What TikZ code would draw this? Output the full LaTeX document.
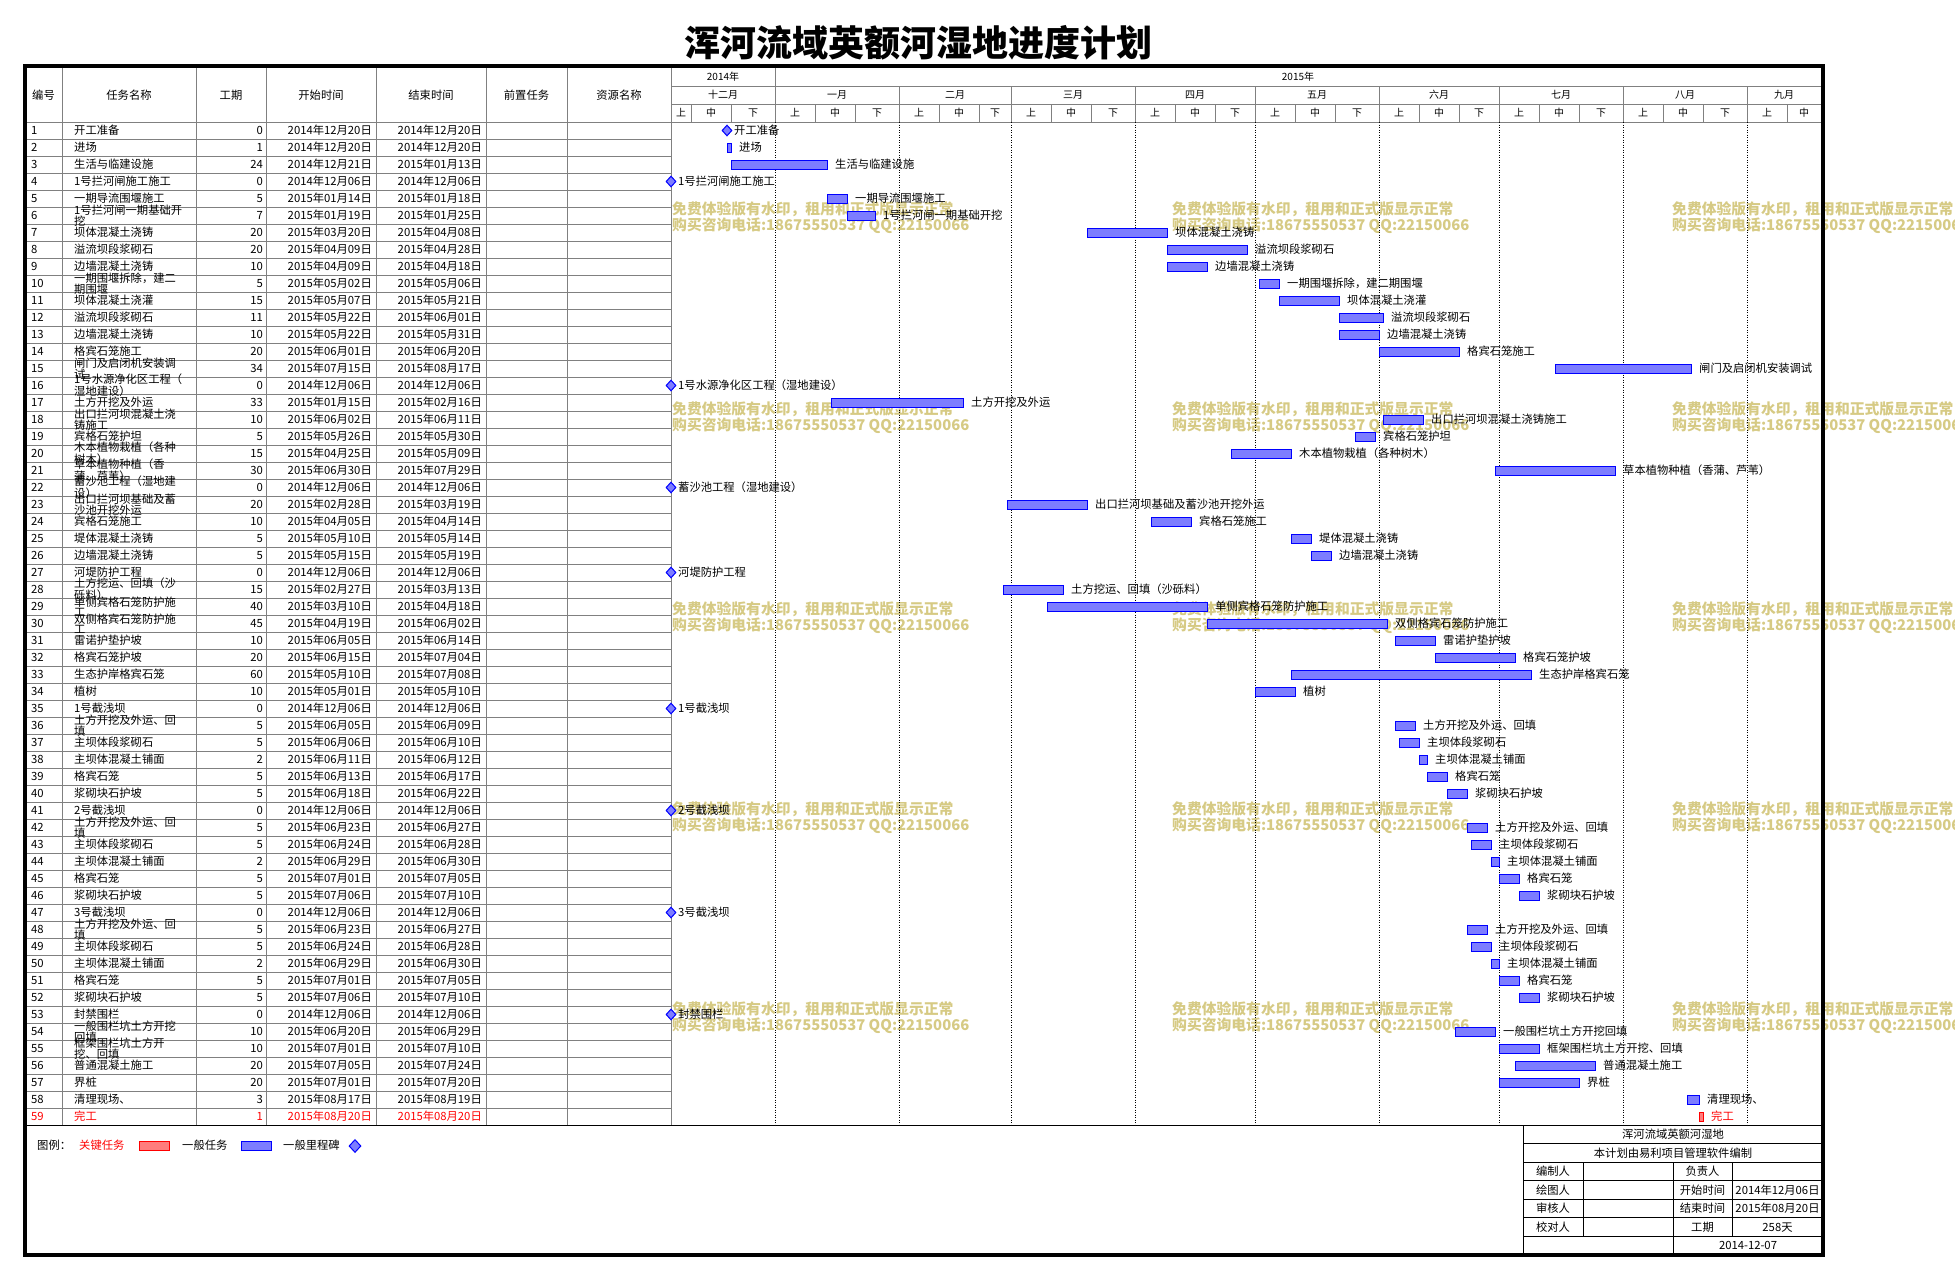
\documentclass[tikz,border=0pt]{standalone}
\usepackage{fontspec}
\setmainfont{Noto Sans CJK SC}
\usetikzlibrary{shapes.geometric}
\definecolor{wm}{RGB}{214,202,132}
\definecolor{gbfill}{RGB}{125,125,255}
\definecolor{kbfill}{RGB}{255,125,125}
\definecolor{ln}{RGB}{128,128,128}

\begin{document}
\begin{tikzpicture}[x=1pt, y=-1pt,
  cell/.style = {inner sep=0pt, font=\fontsize{11.3}{9}\selectfont},
  hd/.style = {inner sep=0pt, font=\fontsize{10}{10}\selectfont},
  wmark/.style = {inner sep=0pt, anchor=west, text=wm, font=\fontsize{14.8}{14.8}\selectfont\bfseries},
  gbar/.style = {draw=blue, fill=gbfill, line width=1pt},
  kbar/.style = {draw=red, fill=kbfill, line width=1pt},
  mstone/.style = {diamond, draw=blue, fill=gbfill, line width=1pt, inner sep=0pt, minimum width=10pt, minimum height=11pt},
  grid/.style = {draw=ln, line width=1pt}]
\useasboundingbox (0,0) rectangle (1955,1280);

\node[font=\fontsize{36}{36}\selectfont\bfseries] (title) at (918,43) {浑河流域英额河湿地进度计划};

\foreach \wx in {672,1172,1672}
  \foreach \wy in {209,409,609,809,1009} {
    \node[wmark] at (\wx,\wy) {免费体验版有水印，租用和正式版显示正常};
    \node[wmark] at (\wx,\wy+17) {购买咨询电话:18675550537 QQ:22150066};
  }

\draw[grid] (671,86) -- (1821,86);
\draw[grid] (671,104) -- (1821,104);
\draw[grid] (25,122) -- (1821,122);
\foreach \r in {1,...,58}
  \draw[grid] (25,122+17*\r) -- (671,122+17*\r);
\foreach \cx in {62,196,266,376,486,567,671}
  \draw[grid] (\cx,68) -- (\cx,1125);
\draw[grid] (775,68) -- (775,86);
\foreach \mx in {775,899,1011,1135,1255,1379,1499,1623,1747} {
  \draw[grid] (\mx,86) -- (\mx,122);
  \draw[dash pattern=on 1pt off 1.5pt] (\mx,122) -- (\mx,1125);
}

\node[cell] (h1) at (43.5,95) {编号};
\node[cell] (h2) at (129,95) {任务名称};
\node[cell] (h3) at (231,95) {工期};
\node[cell] (h4) at (321,95) {开始时间};
\node[cell] (h5) at (431,95) {结束时间};
\node[cell] (h6) at (526.5,95) {前置任务};
\node[cell] (h7) at (619,95) {资源名称};

\node[hd] (y14) at (723,77) {2014年};
\node[hd] (y15) at (1298,77) {2015年};
\foreach \mx/\mn in {723/十二月,837/一月,955/二月,1073/三月,1195/四月,1317/五月,1439/六月,1561/七月,1685/八月,1784/九月}
  \node[hd] (m\mx) at (\mx,95) {\mn};
\foreach \a/\b/\t in {0/5/上,5/15/中,15/26/下,26/36/上,36/46/中,46/57/下,57/67/上,67/77/中,77/85/下,85/95/上,95/105/中,105/116/下,116/126/上,126/136/中,136/146/下,146/156/上,156/166/中,166/177/下,177/187/上,187/197/中,197/207/下,207/217/上,217/227/中,227/238/下,238/248/上,248/258/中,258/269/下,269/279/上,279/287.5/中} {
  \draw[grid] ({671+4*\a},104) -- ({671+4*\a},122);
  \node[hd] (d\a) at ({671+2*(\a+\b)},113) {\t};
}

\foreach \n/\nm/\du/\sd/\ed in {
  1/开工准备/0/2014年12月20日/2014年12月20日,
  2/进场/1/2014年12月20日/2014年12月20日,
  3/生活与临建设施/24/2014年12月21日/2015年01月13日,
  4/1号拦河闸施工施工/0/2014年12月06日/2014年12月06日,
  5/一期导流围堰施工/5/2015年01月14日/2015年01月18日,
  6/{1号拦河闸一期基础开\\挖}/7/2015年01月19日/2015年01月25日,
  7/坝体混凝土浇铸/20/2015年03月20日/2015年04月08日,
  8/溢流坝段浆砌石/20/2015年04月09日/2015年04月28日,
  9/边墙混凝土浇铸/10/2015年04月09日/2015年04月18日,
  10/{一期围堰拆除，建二\\期围堰}/5/2015年05月02日/2015年05月06日,
  11/坝体混凝土浇灌/15/2015年05月07日/2015年05月21日,
  12/溢流坝段浆砌石/11/2015年05月22日/2015年06月01日,
  13/边墙混凝土浇铸/10/2015年05月22日/2015年05月31日,
  14/格宾石笼施工/20/2015年06月01日/2015年06月20日,
  15/{闸门及启闭机安装调\\试}/34/2015年07月15日/2015年08月17日,
  16/{1号水源净化区工程（\\湿地建设）}/0/2014年12月06日/2014年12月06日,
  17/土方开挖及外运/33/2015年01月15日/2015年02月16日,
  18/{出口拦河坝混凝土浇\\铸施工}/10/2015年06月02日/2015年06月11日,
  19/宾格石笼护坦/5/2015年05月26日/2015年05月30日,
  20/{木本植物栽植（各种\\树木）}/15/2015年04月25日/2015年05月09日,
  21/{草本植物种植（香\\蒲、芦苇）}/30/2015年06月30日/2015年07月29日,
  22/{蓄沙池工程（湿地建\\设）}/0/2014年12月06日/2014年12月06日,
  23/{出口拦河坝基础及蓄\\沙池开挖外运}/20/2015年02月28日/2015年03月19日,
  24/宾格石笼施工/10/2015年04月05日/2015年04月14日,
  25/堤体混凝土浇铸/5/2015年05月10日/2015年05月14日,
  26/边墙混凝土浇铸/5/2015年05月15日/2015年05月19日,
  27/河堤防护工程/0/2014年12月06日/2014年12月06日,
  28/{土方挖运、回填（沙\\砾料）}/15/2015年02月27日/2015年03月13日,
  29/{单侧宾格石笼防护施\\工}/40/2015年03月10日/2015年04月18日,
  30/{双侧格宾石笼防护施\\工}/45/2015年04月19日/2015年06月02日,
  31/雷诺护垫护坡/10/2015年06月05日/2015年06月14日,
  32/格宾石笼护坡/20/2015年06月15日/2015年07月04日,
  33/生态护岸格宾石笼/60/2015年05月10日/2015年07月08日,
  34/植树/10/2015年05月01日/2015年05月10日,
  35/1号截浅坝/0/2014年12月06日/2014年12月06日,
  36/{土方开挖及外运、回\\填}/5/2015年06月05日/2015年06月09日,
  37/主坝体段浆砌石/5/2015年06月06日/2015年06月10日,
  38/主坝体混凝土铺面/2/2015年06月11日/2015年06月12日,
  39/格宾石笼/5/2015年06月13日/2015年06月17日,
  40/浆砌块石护坡/5/2015年06月18日/2015年06月22日,
  41/2号截浅坝/0/2014年12月06日/2014年12月06日,
  42/{土方开挖及外运、回\\填}/5/2015年06月23日/2015年06月27日,
  43/主坝体段浆砌石/5/2015年06月24日/2015年06月28日,
  44/主坝体混凝土铺面/2/2015年06月29日/2015年06月30日,
  45/格宾石笼/5/2015年07月01日/2015年07月05日,
  46/浆砌块石护坡/5/2015年07月06日/2015年07月10日,
  47/3号截浅坝/0/2014年12月06日/2014年12月06日,
  48/{土方开挖及外运、回\\填}/5/2015年06月23日/2015年06月27日,
  49/主坝体段浆砌石/5/2015年06月24日/2015年06月28日,
  50/主坝体混凝土铺面/2/2015年06月29日/2015年06月30日,
  51/格宾石笼/5/2015年07月01日/2015年07月05日,
  52/浆砌块石护坡/5/2015年07月06日/2015年07月10日,
  53/封禁围栏/0/2014年12月06日/2014年12月06日,
  54/{一般围栏坑土方开挖\\回填}/10/2015年06月20日/2015年06月29日,
  55/{框架围栏坑土方开\\挖、回填}/10/2015年07月01日/2015年07月10日,
  56/普通混凝土施工/20/2015年07月05日/2015年07月24日,
  57/界桩/20/2015年07月01日/2015年07月20日,
  58/清理现场、/3/2015年08月17日/2015年08月19日} {
  \node[cell, anchor=west] (no\n) at (31,113.5+17*\n) {\n};
  \node[cell, anchor=west, align=left] (nm\n) at (74,113.5+17*\n) {\nm};
  \node[cell, anchor=east] (du\n) at (263,113.5+17*\n) {\du};
  \node[cell, anchor=east] (sd\n) at (372,113.5+17*\n) {\sd};
  \node[cell, anchor=east] (ed\n) at (482,113.5+17*\n) {\ed};
}
\node[cell, anchor=west, text=red] (no59) at (31,1116.5) {59};
\node[cell, anchor=west, text=red] (nm59) at (74,1116.5) {完工};
\node[cell, anchor=east, text=red] (du59) at (263,1116.5) {1};
\node[cell, anchor=east, text=red] (sd59) at (372,1116.5) {2015年08月20日};
\node[cell, anchor=east, text=red] (ed59) at (482,1116.5) {2015年08月20日};

\foreach \n/\s/\e/\lb in {2/14/15/进场, 3/15/39/生活与临建设施, 5/39/44/一期导流围堰施工, 6/44/51/1号拦河闸一期基础开挖,
  7/104/124/坝体混凝土浇铸, 8/124/144/溢流坝段浆砌石, 9/124/134/边墙混凝土浇铸, 10/147/152/一期围堰拆除，建二期围堰,
  11/152/167/坝体混凝土浇灌, 12/167/178/溢流坝段浆砌石, 13/167/177/边墙混凝土浇铸, 14/177/197/格宾石笼施工,
  15/221/255/闸门及启闭机安装调试, 17/40/73/土方开挖及外运, 18/178/188/出口拦河坝混凝土浇铸施工, 19/171/176/宾格石笼护坦,
  20/140/155/木本植物栽植（各种树木）, 21/206/236/草本植物种植（香蒲、芦苇）, 23/84/104/出口拦河坝基础及蓄沙池开挖外运,
  24/120/130/宾格石笼施工, 25/155/160/堤体混凝土浇铸, 26/160/165/边墙混凝土浇铸, 28/83/98/土方挖运、回填（沙砾料）,
  29/94/134/单侧宾格石笼防护施工, 30/134/179/双侧格宾石笼防护施工, 31/181/191/雷诺护垫护坡, 32/191/211/格宾石笼护坡,
  33/155/215/生态护岸格宾石笼, 34/146/156/植树, 36/181/186/土方开挖及外运、回填, 37/182/187/主坝体段浆砌石,
  38/187/189/主坝体混凝土铺面, 39/189/194/格宾石笼, 40/194/199/浆砌块石护坡, 42/199/204/土方开挖及外运、回填,
  43/200/205/主坝体段浆砌石, 44/205/207/主坝体混凝土铺面, 45/207/212/格宾石笼, 46/212/217/浆砌块石护坡,
  48/199/204/土方开挖及外运、回填, 49/200/205/主坝体段浆砌石, 50/205/207/主坝体混凝土铺面, 51/207/212/格宾石笼,
  52/212/217/浆砌块石护坡, 54/196/206/一般围栏坑土方开挖回填, 55/207/217/框架围栏坑土方开挖、回填,
  56/211/231/普通混凝土施工, 57/207/227/界桩, 58/254/257/清理现场、} {
  \draw[gbar] ({671+4*\s},{109+17*\n}) rectangle ({671+4*\e},{118+17*\n});
  \node[cell, anchor=west] (lb\n) at ({679+4*\e},113.5+17*\n) {\lb};
}
\draw[kbar] (1699,1112) rectangle (1703,1121);
\node[cell, anchor=west, text=red] (lb59) at (1711,1116.5) {完工};

\foreach \n/\s/\lb in {1/14/开工准备, 4/0/1号拦河闸施工施工, 16/0/1号水源净化区工程（湿地建设）, 22/0/蓄沙池工程（湿地建设）,
  27/0/河堤防护工程, 35/0/1号截浅坝, 41/0/2号截浅坝, 47/0/3号截浅坝, 53/0/封禁围栏} {
  \node[mstone] (ms\n) at ({671+4*\s},113.5+17*\n) {};
  \node[cell, anchor=west] (lb\n) at ({678+4*\s},113.5+17*\n) {\lb};
}

\node[cell, anchor=west] (lg) at (37,1145) {图例：};
\node[cell, anchor=west, text=red] (lgk) at (79,1145) {关键任务};
\draw[kbar] (139,1141) rectangle (169,1150);
\node[cell, anchor=west] (lgg) at (182,1145) {一般任务};
\draw[gbar] (241,1141) rectangle (271,1150);
\node[cell, anchor=west] (lgm) at (283,1145) {一般里程碑};
\node[mstone, minimum width=12pt, minimum height=13pt] (lgd) at (355,1146) {};

\draw[line width=1pt] (1523,1125) -- (1523,1255);
\foreach \k in {1,...,6}
  \draw[line width=1pt] (1523,1125+18.57*\k) -- (1823,1125+18.57*\k);
\draw[line width=1pt] (1583,1162.1) -- (1583,1236.4);
\draw[line width=1pt] (1732,1162.1) -- (1732,1236.4);
\draw[line width=1pt] (1673,1162.1) -- (1673,1255);
\node[cell] (ib1) at (1673,1134.3) {浑河流域英额河湿地};
\node[cell] (ib2) at (1673,1152.9) {本计划由易利项目管理软件编制};
\foreach \k/\pa/\pc/\pd in {3/编制人/负责人/{}, 4/绘图人/开始时间/2014年12月06日, 5/审核人/结束时间/2015年08月20日, 6/校对人/工期/258天} {
  \node[cell] (ia\k) at (1553,1115.7+18.57*\k) {\pa};
  \node[cell] (ic\k) at (1702.5,1115.7+18.57*\k) {\pc};
  \node[cell] (id\k) at (1777.5,1115.7+18.57*\k) {\pd};
}
\node[cell] (ib7) at (1748,1245.7) {2014-12-07};

\draw[line width=1.5pt] (25,1125.5) -- (1823,1125.5);
\draw[line width=4pt] (25,66) rectangle (1823,1255);
\end{tikzpicture}
\end{document}
